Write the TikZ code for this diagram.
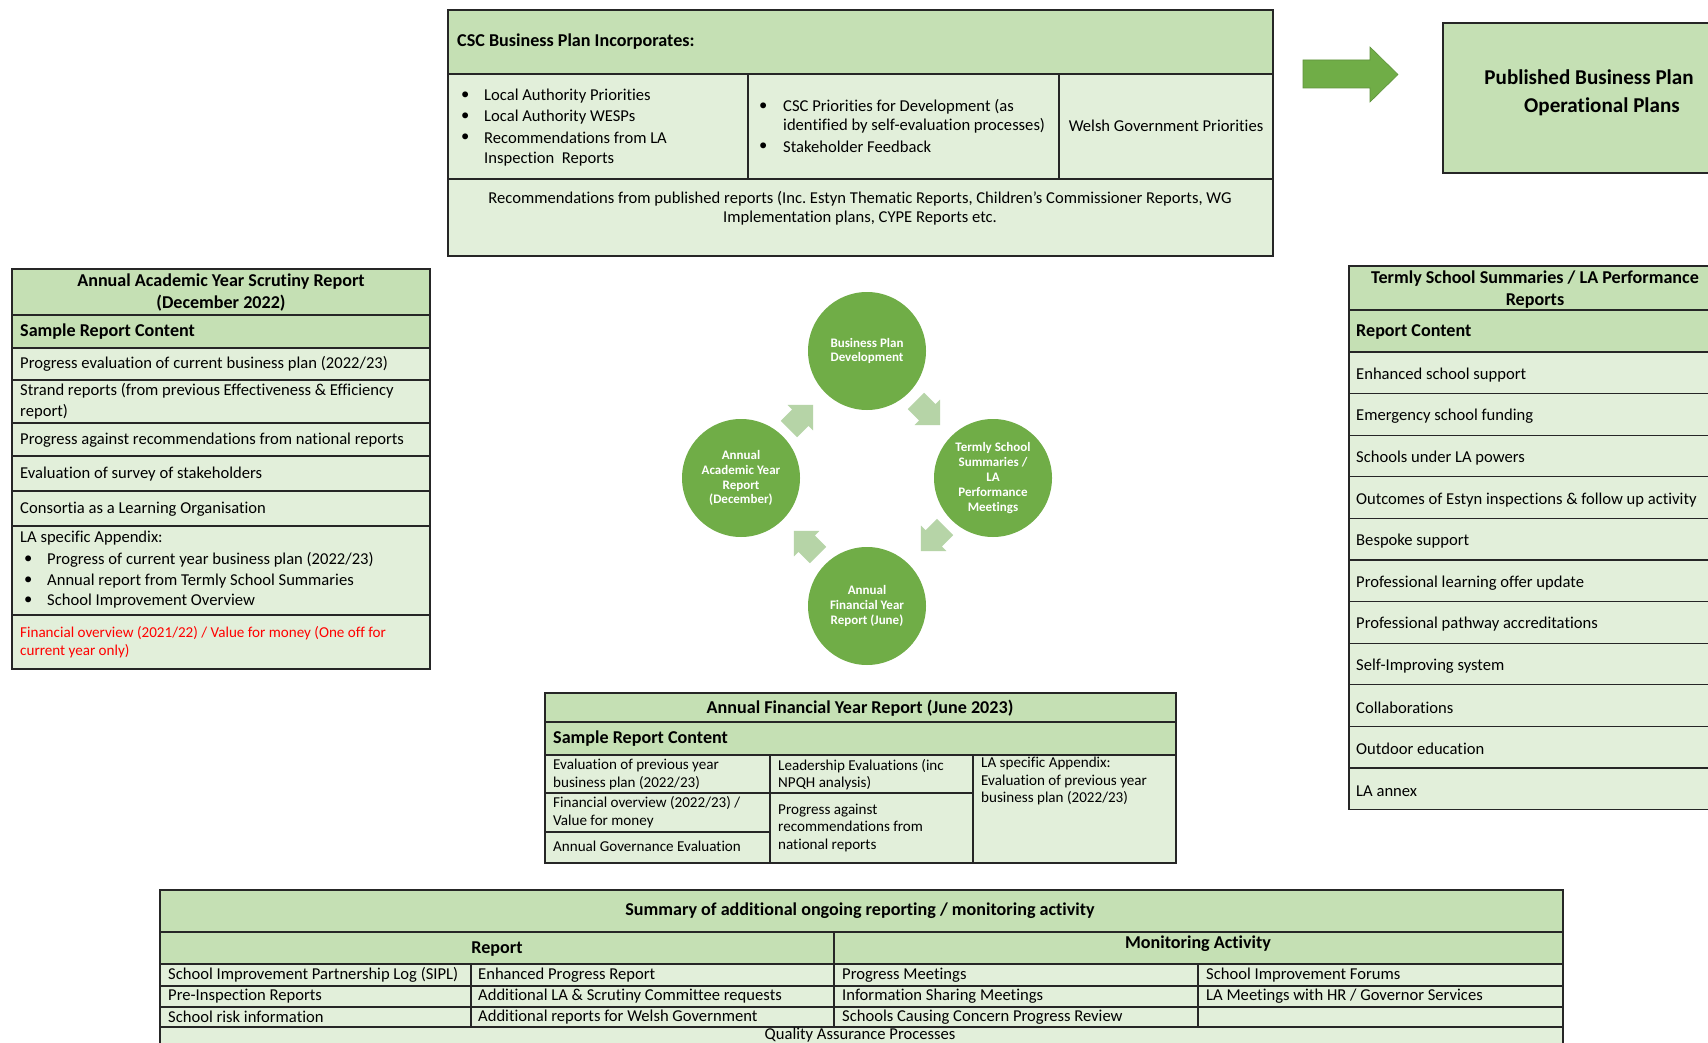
\documentclass[tikz,border=0pt]{standalone}
\usepackage{fontspec}
\setmainfont{Carlito}[Ligatures=NoCommon]
\definecolor{hdrgreen}{HTML}{C5E0B4}
\definecolor{bodgreen}{HTML}{E2EFDA}
\definecolor{circgreen}{HTML}{70AD47}
\definecolor{arrgreen}{HTML}{B6D4A7}
\definecolor{linecol}{HTML}{262626}
\definecolor{redtxt}{HTML}{FF0000}
\newcommand\fBody{\fontsize{16.6}{20.7}\selectfont}
\newcommand\fHead{\fontsize{18.1}{22}\selectfont\bfseries}
\newcommand\fSmall{\fontsize{15.1}{17.6}\selectfont}
\newcommand\fBig{\fontsize{21.1}{28}\selectfont\bfseries}
\newcommand\fCirc{\fontsize{13}{14.9}\selectfont\bfseries}
\tikzset{
  cellh/.style={fill=hdrgreen,draw=linecol,line width=1.2pt},
  cellb/.style={fill=bodgreen,draw=linecol,line width=1.2pt},
  rule/.style={draw=linecol,line width=1.2pt},
  lt/.style={inner sep=0pt,anchor=west,font=\fBody,align=left},
  lts/.style={inner sep=0pt,anchor=west,font=\fSmall,align=left},
  hd/.style={inner sep=0pt,font=\fHead,align=center},
  hdl/.style={inner sep=0pt,anchor=west,font=\fHead,align=left},
  circ/.style={circle,fill=circgreen,minimum size=118pt,inner sep=0pt,text=white,font=\fCirc,align=center},
  cycarr/.pic={\fill[arrgreen] (-17,-11.5) -- (-1,-11.5) -- (-1,-18) -- (17,0) -- (-1,18) -- (-1,11.5) -- (-17,11.5) -- cycle;}
}
\begin{document}
\begin{tikzpicture}[x=1pt,y=-1pt]
\useasboundingbox (0,0) rectangle (1708,1043);
\clip (0,0) rectangle (1708,1043);
\fill[white] (0,0) rectangle (1708,1043);

% ---------------- CSC box ----------------
\filldraw[cellh] (448,10) rectangle (1273,74);
\filldraw[cellb] (448,74) rectangle (1273,179);
\filldraw[cellb] (448,179) rectangle (1273,256);
\draw[rule] (748,74) -- (748,179);
\draw[rule] (1059,74) -- (1059,179);
\node[hdl] (csct) at (457,42) {CSC Business Plan Incorporates:};
\node[lt] (b1) at (461,96) {\textbullet};
\node[lt] (b2) at (461,117) {\textbullet};
\node[lt] (b3) at (461,138) {\textbullet};
\node[lt] (c1a) at (484,96) {Local Authority Priorities};
\node[lt] (c1b) at (484,117) {Local Authority WESPs};
\node[lt] (c1c) at (484,138) {Recommendations from LA};
\node[lt] (c1d) at (484,159) {Inspection\ \ Reports};
\node[lt] (b4) at (759,107) {\textbullet};
\node[lt] (b5) at (759,147) {\textbullet};
\node[lt] (c2a) at (783,107) {CSC Priorities for Development (as};
\node[lt] (c2b) at (783,126) {identified by self-evaluation processes)};
\node[lt] (c2c) at (783,147) {Stakeholder Feedback};
\node[inner sep=0pt,font=\fBody] (c3) at (1166,126) {Welsh Government Priorities};
\node[inner sep=0pt,font=\fontsize{16.6}{18.8}\selectfont,align=center] (crec) at (860,208) {Recommendations from published reports (Inc.\ Estyn Thematic Reports, Children’s Commissioner Reports, WG\\Implementation plans, CYPE Reports etc.};

% ---------------- big arrow + published box ----------------
\filldraw[fill=circgreen,draw=circgreen!85!black,line width=0.6pt] (1303,60) -- (1370,60) -- (1370,47) -- (1398,74.5) -- (1370,102) -- (1370,88) -- (1303,88) -- cycle;
\filldraw[cellh] (1443,23) rectangle (1740,173);
\node[inner sep=0pt,font=\fBig,align=center] (pub) at (1589,93) {Published Business Plan\\\hspace*{26pt}Operational Plans};

% ---------------- left table ----------------
\foreach \a/\b/\c in {269/315/hdrgreen,315/348/hdrgreen,348/380/bodgreen,380/423/bodgreen,423/456/bodgreen,456/491/bodgreen,491/526/bodgreen,526/615/bodgreen,615/669/bodgreen}
  \filldraw[fill=\c,draw=linecol,line width=1.2pt] (12,\a) rectangle (430,\b);
\node[hd] (lh) at (221,293) {Annual Academic Year Scrutiny Report\\(December 2022)};
\node[hdl] (ls) at (20,332) {Sample Report Content};
\node[lt] (l1) at (20,364) {Progress evaluation of current business plan (2022/23)};
\node[lt] (l2) at (20,401.5) {Strand reports (from previous Effectiveness \& Efficiency\\report)};
\node[lt] (l3) at (20,440) {Progress against recommendations from national reports};
\node[lt] (l4) at (20,474) {Evaluation of survey of stakeholders};
\node[lt] (l5) at (20,509) {Consortia as a Learning Organisation};
\node[lt] (l6) at (20,538) {LA specific Appendix:};
\node[lt] (lb1) at (24,560) {\textbullet};
\node[lt] (lb2) at (24,581) {\textbullet};
\node[lt] (lb3) at (24,601) {\textbullet};
\node[lt] (l7) at (47,560) {Progress of current year business plan (2022/23)};
\node[lt] (l8) at (47,581) {Annual report from Termly School Summaries};
\node[lt] (l9) at (47,601) {School Improvement Overview};
\node[lts,text=redtxt] (lred) at (20,642) {Financial overview (2021/22) / Value for money (One off for\\current year only)};

% ---------------- right table ----------------
\foreach \a/\b/\c in {266/310/hdrgreen,310/352/hdrgreen}
  \filldraw[fill=\c,draw=linecol,line width=1.2pt] (1349,\a) rectangle (1721,\b);
\foreach \i in {0,...,10}
  \filldraw[fill=bodgreen,draw=linecol,line width=1.2pt] (1349,{352+41.6*\i}) rectangle (1721,{352+41.6*(\i+1)});
\node[hd] (rh) at (1535,290) {Termly School Summaries / LA Performance\\Reports};
\node[hdl] (rs) at (1356,332) {Report Content};
\foreach \t [count=\i from 0] in {Enhanced school support,Emergency school funding,Schools under LA powers,Outcomes of Estyn inspections \& follow up activity,Bespoke support,Professional learning offer update,Professional pathway accreditations,Self-Improving system,Collaborations,Outdoor education,LA annex}
  \node[lt] (r\i) at (1356,{374.8+41.6*\i}) {\t};

% ---------------- cycle ----------------
\node[circ] (cTop) at (867,351) {Business Plan\\Development};
\node[circ] (cLeft) at (741,478) {Annual\\Academic Year\\Report\\(December)};
\node[circ] (cRight) at (993,478) {Termly School\\Summaries /\\LA\\Performance\\Meetings};
\node[circ] (cBot) at (867,606) {Annual\\Financial Year\\Report (June)};
\pic[rotate=-45] at (928,413) {cycarr};
\pic[rotate=-135] at (933,539) {cycarr};
\pic[rotate=135] at (806,543) {cycarr};
\pic[rotate=45] at (801,417) {cycarr};

% ---------------- financial table ----------------
\filldraw[cellh] (545,693) rectangle (1176,722);
\filldraw[cellh] (545,722) rectangle (1176,755);
\filldraw[cellb] (545,755) rectangle (1176,863);
\draw[rule] (770,755) -- (770,863);
\draw[rule] (973,755) -- (973,863);
\draw[rule] (545,793) -- (973,793);
\draw[rule] (545,832) -- (770,832);
\node[hd] (ft) at (860,708) {Annual Financial Year Report (June 2023)};
\node[hdl] (fs) at (553,739) {Sample Report Content};
\node[lts] (f1) at (553,774.5) {Evaluation of previous year\\business plan (2022/23)};
\node[lts] (f2) at (553,812) {Financial overview (2022/23) /\\Value for money};
\node[lts] (f3) at (553,846.5) {Annual Governance Evaluation};
\node[lts] (f4) at (778,774.5) {Leadership Evaluations (inc\\NPQH analysis)};
\node[lts] (f5) at (778,828) {Progress against\\recommendations from\\national reports};
\node[lts,anchor=north west] (f6) at (981,757) {LA specific Appendix:\\Evaluation of previous year\\business plan (2022/23)};

% ---------------- summary table ----------------
\filldraw[cellh] (160,890) rectangle (1563,932);
\filldraw[cellh] (160,932) rectangle (1563,964);
\foreach \a/\b in {964/986,986/1007,1007/1027,1027/1070}
  \filldraw[cellb] (160,\a) rectangle (1563,\b);
\draw[rule] (834,932) -- (834,1027);
\draw[rule] (471,964) -- (471,1027);
\draw[rule] (1198,964) -- (1198,1027);
\node[hd] (st) at (860,911) {Summary of additional ongoing reporting / monitoring activity};
\node[hd] (sr) at (497,949) {Report};
\node[hd] (sm) at (1198,944) {Monitoring Activity};
\node[lt] (s11) at (168,975) {School Improvement Partnership Log (SIPL)};
\node[lt] (s12) at (478,975) {Enhanced Progress Report};
\node[lt] (s13) at (842,975) {Progress Meetings};
\node[lt] (s14) at (1206,975) {School Improvement Forums};
\node[lt] (s21) at (168,996) {Pre-Inspection Reports};
\node[lt] (s22) at (478,996) {Additional LA \& Scrutiny Committee requests};
\node[lt] (s23) at (842,996) {Information Sharing Meetings};
\node[lt] (s24) at (1206,996) {LA Meetings with HR / Governor Services};
\node[lt] (s31) at (168,1017) {School risk information};
\node[lt] (s32) at (478,1017) {Additional reports for Welsh Government};
\node[lt] (s33) at (842,1017) {Schools Causing Concern Progress Review};
\node[inner sep=0pt,font=\fBody] (sq) at (860,1035.5) {Quality Assurance Processes};
\end{tikzpicture}
\end{document}
